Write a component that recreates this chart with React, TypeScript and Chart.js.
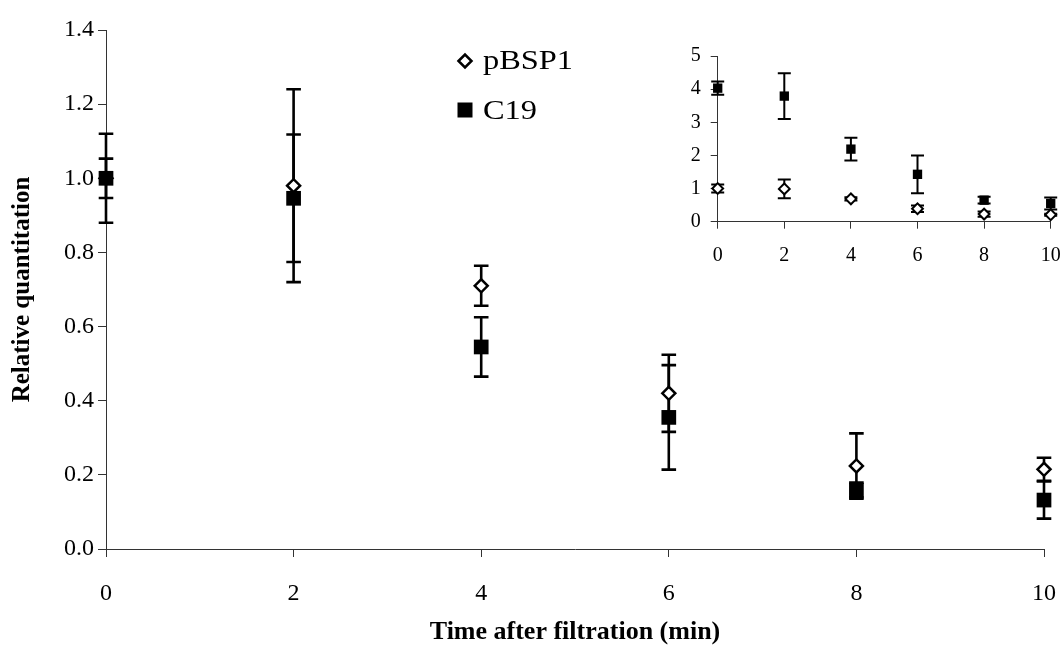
import React, { useEffect, useRef } from 'react';
import { Chart, registerables } from 'chart.js';

Chart.register(...registerables);

// ---- data ----
const times = [0, 2, 4, 6, 8, 10];
const pbsp1 = [1.0, 0.98, 0.71, 0.42, 0.224, 0.215];
const pbsp1Err = [0.12, 0.26, 0.054, 0.104, 0.088, 0.031];
const c19 = [1.0, 0.946, 0.545, 0.355, 0.159, 0.132];
const c19Err = [0.053, 0.172, 0.08, 0.141, 0.02, 0.05];

const insetPbsp1 = [1.0, 0.99, 0.69, 0.39, 0.23, 0.21];
const insetPbsp1Err = [0.12, 0.28, 0.05, 0.1, 0.08, 0.03];
const insetC19 = [4.03, 3.79, 2.19, 1.43, 0.65, 0.55];
const insetC19Err = [0.2, 0.69, 0.34, 0.57, 0.1, 0.18];

const mainXTicks = [0, 2, 4, 6, 8, 10];
const mainYTicks = [0, 0.2, 0.4, 0.6, 0.8, 1.0, 1.2, 1.4];
const insetXTicks = [0, 2, 4, 6, 8, 10];
const insetYTicks = [0, 1, 2, 3, 4, 5];

const seriesNames = ['pBSP1', 'C19'];
const xTitle = 'Time after filtration (min)';
const yTitle = 'Relative quantitation';

const FONT = "'Liberation Serif', 'Times New Roman', serif";
const AXIS = '#333';

function makeErrorBars(lineWidth: number, cap: number) {
  return {
    id: 'errorBars',
    beforeDatasetsDraw(chart: any) {
      const { ctx } = chart;
      const xs = chart.scales.x;
      const ys = chart.scales.y;
      ctx.save();
      ctx.strokeStyle = '#000';
      ctx.lineWidth = lineWidth;
      chart.data.datasets.forEach((ds: any) => {
        const errs: number[] = ds.errors || [];
        ds.data.forEach((p: any, i: number) => {
          const e = errs[i] || 0;
          const x = xs.getPixelForValue(p.x);
          const yT = ys.getPixelForValue(p.y + e);
          const yB = ys.getPixelForValue(p.y - e);
          ctx.beginPath();
          ctx.moveTo(x, yT);
          ctx.lineTo(x, yB);
          ctx.moveTo(x - cap, yT);
          ctx.lineTo(x + cap, yT);
          ctx.moveTo(x - cap, yB);
          ctx.lineTo(x + cap, yB);
          ctx.stroke();
        });
      });
      ctx.restore();
    },
  };
}

const legendPlugin = {
  id: 'customLegend',
  afterDraw(chart: any) {
    const { ctx } = chart;
    ctx.save();
    const dx = 465, dy = 61, h = 6.5;
    ctx.beginPath();
    ctx.moveTo(dx - h, dy);
    ctx.lineTo(dx, dy - h);
    ctx.lineTo(dx + h, dy);
    ctx.lineTo(dx, dy + h);
    ctx.closePath();
    ctx.fillStyle = '#fff';
    ctx.fill();
    ctx.lineWidth = 2.5;
    ctx.strokeStyle = '#000';
    ctx.stroke();
    ctx.fillStyle = '#000';
    ctx.fillRect(465 - 7.5, 110 - 7.5, 15, 15);
    ctx.font = `27px ${FONT}`;
    ctx.textBaseline = 'alphabetic';
    ctx.textAlign = 'left';
    ctx.fillStyle = '#000';
    const draw = (t: string, x: number, y: number) => {
      ctx.save();
      ctx.translate(x, y);
      ctx.scale(1.2, 1);
      ctx.fillText(t, 0, 0);
      ctx.restore();
    };
    draw(seriesNames[0], 483, 69);
    draw(seriesNames[1], 483, 119);
    ctx.restore();
  },
};

function buildDatasets(a: number[], aErr: number[], b: number[], bErr: number[], big: boolean) {
  return [
    {
      label: seriesNames[0],
      data: times.map((t, i) => ({ x: t, y: a[i] })),
      errors: aErr,
      pointStyle: 'rectRot',
      pointRadius: big ? 6.5 : 5.4,
      pointBackgroundColor: '#fff',
      pointBorderColor: '#000',
      pointBorderWidth: big ? 2.5 : 2,
      showLine: false,
      clip: false,
      order: 2,
    },
    {
      label: seriesNames[1],
      data: times.map((t, i) => ({ x: t, y: b[i] })),
      errors: bErr,
      pointStyle: 'rect',
      pointRadius: big ? 10.4 : 6.6,
      pointBackgroundColor: '#000',
      pointBorderColor: '#000',
      pointBorderWidth: 0,
      showLine: false,
      clip: false,
      order: 1,
    },
  ];
}

const fitX = (h: number) => (s: any) => {
  s.height = h;
  s.paddingLeft = 0;
  s.paddingRight = 0;
};
const fitY = (w: number) => (s: any) => {
  s.width = w;
  s.paddingTop = 0;
  s.paddingBottom = 0;
};

export default function App() {
  const mainRef = useRef<HTMLCanvasElement | null>(null);
  const insetRef = useRef<HTMLCanvasElement | null>(null);

  useEffect(() => {
    const main = new Chart(mainRef.current as HTMLCanvasElement, {
      type: 'scatter',
      data: { datasets: buildDatasets(pbsp1, pbsp1Err, c19, c19Err, true) as any },
      options: {
        responsive: false,
        animation: false,
        devicePixelRatio: 1,
        events: [],
        layout: { padding: { top: 30, right: 19, bottom: 0, left: 0 } },
        plugins: { legend: { display: false }, tooltip: { enabled: false } },
        scales: {
          x: {
            type: 'linear',
            min: 0,
            max: 10,
            afterBuildTicks: (axis: any) => {
              axis.ticks = mainXTicks.map((v) => ({ value: v }));
            },
            afterFit: fitX(99),
            ticks: {
              color: '#000',
              font: { family: FONT, size: 24 },
              padding: 22,
              callback: (v: any) => String(v),
            },
            grid: { drawOnChartArea: false, drawTicks: true, tickLength: 8, color: AXIS, lineWidth: 1 },
            border: { display: true, color: AXIS, width: 1 },
            title: {
              display: true,
              text: xTitle,
              color: '#000',
              font: { family: FONT, size: 26, weight: 'bold' },
              padding: { top: 0, bottom: 0 },
            },
          },
          y: {
            type: 'linear',
            min: 0,
            max: 1.4,
            afterBuildTicks: (axis: any) => {
              axis.ticks = mainYTicks.map((v) => ({ value: v }));
            },
            afterFit: fitY(106),
            ticks: {
              color: '#000',
              font: { family: FONT, size: 24 },
              padding: 4,
              callback: (v: any) => Number(v).toFixed(1),
            },
            grid: { drawOnChartArea: false, drawTicks: true, tickLength: 8, color: AXIS, lineWidth: 1 },
            border: { display: true, color: AXIS, width: 1 },
            title: {
              display: true,
              text: yTitle,
              color: '#000',
              font: { family: FONT, size: 25, weight: 'bold' },
              padding: { top: 8, bottom: 0 },
            },
          },
        },
      } as any,
      plugins: [makeErrorBars(2.6, 7.3), legendPlugin],
    });

    const inset = new Chart(insetRef.current as HTMLCanvasElement, {
      type: 'scatter',
      data: { datasets: buildDatasets(insetPbsp1, insetPbsp1Err, insetC19, insetC19Err, false) as any },
      options: {
        responsive: false,
        animation: false,
        devicePixelRatio: 1,
        events: [],
        layout: { padding: { top: 26, right: 12.3, bottom: 0, left: 0 } },
        plugins: { legend: { display: false }, tooltip: { enabled: false } },
        scales: {
          x: {
            type: 'linear',
            min: 0,
            max: 10,
            afterBuildTicks: (axis: any) => {
              axis.ticks = insetXTicks.map((v) => ({ value: v }));
            },
            afterFit: fitX(68.3),
            ticks: {
              color: '#000',
              font: { family: FONT, size: 20 },
              padding: 15,
              callback: (v: any) => String(v),
            },
            grid: { drawOnChartArea: false, drawTicks: true, tickLength: 7, color: AXIS, lineWidth: 1 },
            border: { display: true, color: AXIS, width: 1 },
          },
          y: {
            type: 'linear',
            min: 0,
            max: 5,
            afterBuildTicks: (axis: any) => {
              axis.ticks = insetYTicks.map((v) => ({ value: v }));
            },
            afterFit: fitY(77.7),
            ticks: {
              color: '#000',
              font: { family: FONT, size: 20 },
              padding: 10,
              callback: (v: any) => String(v),
            },
            grid: { drawOnChartArea: false, drawTicks: true, tickLength: 7, color: AXIS, lineWidth: 1 },
            border: { display: true, color: AXIS, width: 1 },
          },
        },
      } as any,
      plugins: [makeErrorBars(2, 6.5)],
    });

    return () => {
      main.destroy();
      inset.destroy();
    };
  }, []);

  return (
    <div style={{ position: 'fixed', left: 0, top: 0, width: 1063, height: 648, background: '#fff' }}>
      <canvas ref={mainRef} width={1063} height={648} style={{ position: 'absolute', left: 0, top: 0, display: 'block' }} />
      <canvas ref={insetRef} width={423} height={260} style={{ position: 'absolute', left: 640, top: 30, display: 'block' }} />
    </div>
  );
}
